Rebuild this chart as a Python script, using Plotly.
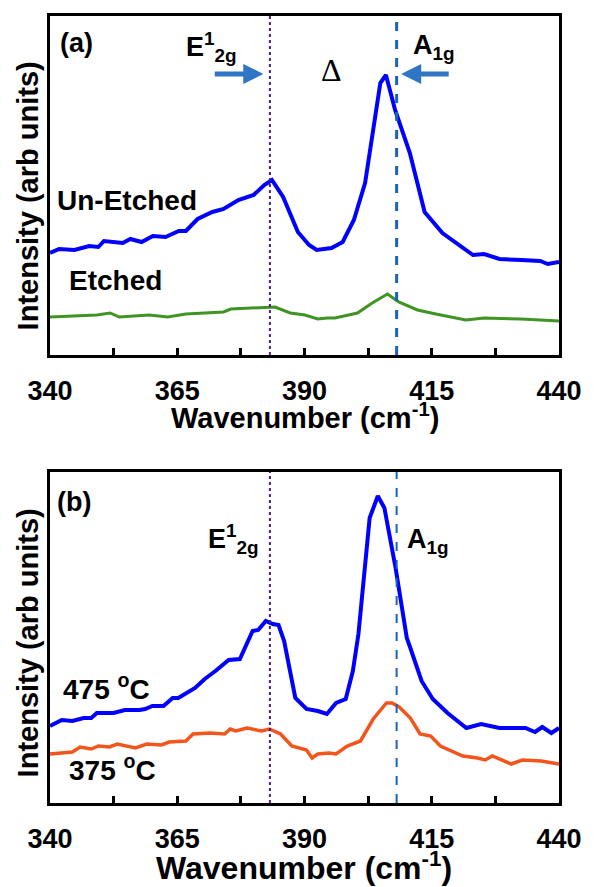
import plotly.graph_objects as go

# ---------------- data (arb. units) ----------------
a_unetched_x = [340, 341.8, 344.8, 347.7, 349.5, 350.6, 354.3, 355.8, 358, 360.2, 362.7, 365.3, 366.7, 369, 371.9,
                374.1, 377, 380, 382.1, 383.6, 385.8, 388.7, 390.9, 392.4, 395.3, 397.5, 399.7, 401.9, 403.4, 404.9,
                406.0, 407.8, 410.7, 412.6, 413.6, 417.1, 420.2, 423.1, 425.3, 428.3, 432.6, 436.3, 437.8, 440]
a_unetched_y = [102, 106, 105, 109, 108, 114, 112, 116, 113, 119, 118, 124, 124, 136, 143,
                146, 155, 160, 170, 175, 158, 123, 110, 105, 107, 113, 135, 172, 222, 272,
                280, 245, 202, 165, 143, 122, 110, 100, 101, 96, 95, 94, 91, 93]

a_etched_x = [340, 344.8, 349.2, 351.8, 353.6, 359.5, 363.1, 366.7, 374.1, 375.5, 380.6, 384.2, 387.2, 390.1,
              392.6, 394.5, 396, 400.4, 403.3, 406.3, 408.5, 412.2, 415.8, 421.7, 425.3, 432.6, 440]
a_etched_y = [38, 39, 40, 42, 38, 40, 38, 41, 43, 46, 47, 48, 42, 40,
              36, 37, 37, 42, 52, 61, 53, 45, 41, 35, 37, 36, 34]

b_475_x = [340, 342.3, 344.4, 346.6, 348.1, 349.2, 352.5, 354.7, 357.6, 358.7, 360.1, 362.3, 364.1, 365.2, 368.5,
           370.4, 372.5, 375.1, 377.3, 379.8, 380.9, 382.4, 383.8, 384.9, 386, 388.2, 390.4, 392.6, 394.4, 396.2,
           398.1, 399.5, 400.6, 402.8, 404.4, 405.7, 407.9, 410.1, 410.8, 413, 415.2, 418.1, 421.8, 424.7, 428.3,
           431.2, 433.4, 435.3, 436.7, 438.5, 440]
b_475_y = [77, 83, 82, 85, 85, 90, 90, 93, 93, 94, 97, 97, 105, 105, 115,
           124, 132, 143, 144, 172, 173, 182, 179, 178, 162, 105, 94, 92, 89, 100,
           104, 132, 169, 285, 307, 295, 235, 165, 155, 122, 104, 90, 75, 79, 75,
           75, 75, 71, 76, 70, 75]

b_375_x = [340, 342.9, 344.4, 345.9, 348.1, 349.5, 351.7, 353.2, 356.8, 359, 361.9, 363.4, 366.7, 368.1, 371.4,
           374.3, 375.4, 376.5, 378.7, 381.6, 383.1, 385.3, 387.5, 390.4, 391.5, 392.6, 394.8, 396.2, 398.4, 401,
           403.5, 406.1, 407.2, 408.6, 410.8, 412.7, 414.8, 416.7, 421.1, 424, 425.5, 426.9, 430.6, 432.8, 436.5, 440]
b_375_y = [49, 50, 51, 56, 54, 57, 56, 59, 55, 59, 58, 61, 62, 69, 70,
           69, 74, 72, 75, 72, 74, 69, 57, 53, 45, 49, 50, 49, 57, 62,
           84, 100, 100, 96, 85, 69, 67, 57, 47, 45, 43, 47, 39, 43, 42, 39]

peak_E2g = 383.2
peak_A1g = 408.1

tick_vals = [340, 352.5, 365, 377.5, 390, 402.5, 415, 427.5, 440]
tick_text = ["340", "", "365", "", "390", "", "415", "", "440"]

# ---------------- figure ----------------
W, H = 594, 887
ML, MR, MT, MB = 50, 26, 16, 84
PW = W - ML - MR
PH = H - MT - MB


def px(xp):
    return (xp - ML) / PW


def py(yp):
    return (H - MB - yp) / PH


FONT = "Liberation Sans, Arial, sans-serif"

fig = go.Figure()
fig.add_trace(go.Scatter(x=a_unetched_x, y=a_unetched_y, mode="lines", line=dict(color="#0000FF", width=4),
                         xaxis="x", yaxis="y", showlegend=False))
fig.add_trace(go.Scatter(x=a_etched_x, y=a_etched_y, mode="lines", line=dict(color="#3F9424", width=3),
                         xaxis="x", yaxis="y", showlegend=False))
fig.add_trace(go.Scatter(x=b_475_x, y=b_475_y, mode="lines", line=dict(color="#0000FF", width=4),
                         xaxis="x2", yaxis="y2", showlegend=False))
fig.add_trace(go.Scatter(x=b_375_x, y=b_375_y, mode="lines", line=dict(color="#F2561D", width=3.5),
                         xaxis="x2", yaxis="y2", showlegend=False))

axis_common = dict(showline=True, linewidth=3, linecolor="black", mirror=True, showgrid=False, zeroline=False)
xcommon = dict(axis_common, range=[340, 440], tickmode="array", tickvals=tick_vals, ticktext=tick_text,
               ticks="inside", ticklen=7, tickwidth=3, tickcolor="black",
               tickfont=dict(family=FONT, size=27, color="black", weight="bold"), ticklabelstandoff=10)
ycommon = dict(axis_common, showticklabels=False, ticks="")

dom_a = [py(355), 1.0]
dom_b = [0.0, py(472)]
fig.update_layout(
    width=W, height=H, margin=dict(l=ML, r=MR, t=MT, b=MB),
    paper_bgcolor="white", plot_bgcolor="white",
    xaxis=dict(xcommon, domain=[0, 1], anchor="y"),
    yaxis=dict(ycommon, domain=dom_a, range=[0, 339], anchor="x"),
    xaxis2=dict(xcommon, domain=[0, 1], anchor="y2"),
    yaxis2=dict(ycommon, domain=dom_b, range=[0, 331], anchor="x2"),
)

# vertical peak lines
for xr, yr, w_a in (("x", "y", 3), ("x2", "y2", 2)):
    fig.add_shape(type="line", xref=xr, yref=yr + " domain", x0=peak_E2g, x1=peak_E2g, y0=0, y1=1,
                  line=dict(color="#4B1E8C", width=2, dash="dot"))
    fig.add_shape(type="line", xref=xr, yref=yr + " domain", x0=peak_A1g, x1=peak_A1g, y0=0, y1=1,
                  line=dict(color="#1A62C0", width=w_a, dash="dash"))


def txt(text, xp, yp, size=28, xanchor="left", weight="bold", family=FONT, angle=0):
    fig.add_annotation(text=text, x=px(xp), y=py(yp), xref="paper", yref="paper", showarrow=False,
                       xanchor=xanchor, yanchor="middle", textangle=angle,
                       font=dict(family=family, size=size, color="black", weight=weight))


# panel (a)
txt("(a)", 58, 43, size=27)
txt("E<sup>1</sup><sub>2g</sub>", 186, 47, size=27)
txt("A<sub>1g</sub>", 417, 47, size=27)
txt("Δ", 336, 70, size=32, xanchor="center", weight="normal", family="Liberation Serif, serif")
txt("Un-Etched", 55, 200, size=28)
txt("Etched", 67, 280, size=28)
txt("Wavenumber (cm<sup>-1</sup>)", 309, 416, size=29, xanchor="center")
txt("Intensity (arb units)", 28, 196, size=29, xanchor="center", angle=-90)

# panel (b)
txt("(b)", 55, 502, size=27)
txt("E<sup>1</sup><sub>2g</sub>", 209, 539, size=27)
txt("A<sub>1g</sub>", 411, 541, size=27)
txt("475 <sup>o</sup>C", 61, 687, size=28)
txt("375 <sup>o</sup>C", 67, 768, size=28)
txt("Wavenumber (cm<sup>-1</sup>)", 308, 866, size=32, xanchor="center")
txt("Intensity (arb units)", 28, 643, size=29, xanchor="center", angle=-90)

# arrows in panel (a)
arrow_y = 355 - 74
fig.add_annotation(x=381.9, y=arrow_y, xref="x", yref="y", ax=-50, ay=0, axref="pixel", ayref="pixel",
                   text="", showarrow=True, arrowhead=2, arrowsize=0.8, arrowwidth=5, arrowcolor="#2E75C6")
fig.add_annotation(x=409.0, y=arrow_y, xref="x", yref="y", ax=49, ay=0, axref="pixel", ayref="pixel",
                   text="", showarrow=True, arrowhead=2, arrowsize=0.8, arrowwidth=5, arrowcolor="#2E75C6")

fig.write_html("out.html")
